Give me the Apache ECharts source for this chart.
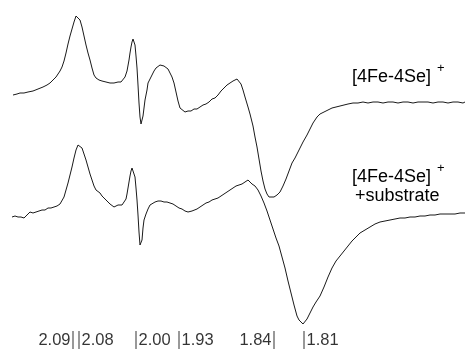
<!DOCTYPE html>
<html>
<head>
<meta charset="utf-8">
<script src="https://cdn.jsdelivr.net/npm/echarts@6/dist/echarts.min.js"></script>
<style>
html,body{margin:0;padding:0;background:#fff;}
#chart{width:465px;height:349px;}
</style>
</head>
<body>
<div id="chart"></div>
<script>
// Field axis (arbitrary units) and derivative signal (arbitrary units, plotted downward)
var topField = [13,17,20,24,28,33,38,43,47,50,53,56,58,60,62,64,66,68,70,72,74,76,77,78,80,82,84,86,88,90,92,94,96,99,102,106,110,114,118,121,123,125,127,129,130,131,132,133,134,135,136,137,138,139,140,141,142,143,144,145,147,148,150,152,154,156,158,160,162,164,166,168,170,172,174,176,178,180,182,185,188,191,194,197,200,203,206,209,212,215,218,221,224,227,230,233,235,237,239,241,243,245,248,250,253,255,257,259,261,263,265,267,269,271,274,277,280,283,286,289,292,295,298,300,303,307,310,313,317,320,324,328,332,336,340,344,348,353,358,363,368,373,378,383,388,393,398,403,408,413,418,423,428,433,438,443,448,453,458,463,465];
var topSignal = [95,94,93,93,92,91,89,87,85,83,80,77,74,71,67,61,53,44,36,29,22,16,14,15,20,27,36,45,53,60,68,75,78,80,81,82,83,83,82,82,80,77,71,60,53,47,42,39,40,45,56,68,85,103,117,124,122,116,108,100,90,83,79,75,71,68,66,65,64,66,67,69,73,77,83,92,101,108,110,112,111,111,109,109,107,105,104,102,99,98,95,91,88,85,83,81,80,79,80,84,90,97,107,114,126,137,147,159,171,181,189,194,197,198,197,195,192,186,179,171,163,158,152,148,142,135,129,123,117,114,112,110,108,107,106,105,104,103,103,102,103,102,102,103,102,102,103,102,102,103,102,102,102,103,102,102,103,102,102,103,102];

var botField = [12,15,18,21,24,27,30,33,36,39,42,45,48,51,54,57,60,62,64,66,68,70,72,74,76,78,80,82,84,86,88,90,92,94,96,98,100,102,104,106,108,110,112,114,116,118,120,122,124,126,127,128,129,130,131,132,133,134,135,136,137,138,139,140,141,142,143,144,146,148,150,152,155,158,161,164,167,170,173,176,179,182,185,188,190,192,194,197,200,203,206,209,212,215,218,221,224,227,230,233,236,239,242,245,247,248,250,252,255,258,261,264,267,270,273,276,279,282,285,288,291,294,297,299,301,303,305,307,310,313,316,320,324,328,332,336,340,344,348,352,356,360,365,370,375,380,385,390,395,400,405,410,415,420,425,430,435,440,445,450,455,460,465];
var botSignal = [217,216,217,217,218,215,212,213,212,211,210,210,208,208,207,206,204,202,197,190,183,175,167,158,150,145,146,148,154,160,167,174,180,186,190,192,193,196,198,200,202,204,206,207,206,205,206,205,203,199,194,188,182,176,171,168,167,170,177,188,200,215,232,245,247,240,228,220,214,209,205,203,202,201,201,202,202,203,204,206,208,209,211,212,214,211,210,209,207,205,203,202,200,199,198,196,194,192,190,188,186,185,184,182,181,180,182,184,186,190,196,203,211,220,229,238,246,257,268,281,293,305,316,320,322,324,322,319,313,307,302,296,287,277,268,261,256,251,246,241,237,233,230,227,224,222,221,220,219,218,218,217,217,216,216,215,215,214,214,214,214,213,213];

// g-value markers
var gLabels = ['2.09','2.08','2.00','1.93','1.84','1.81'];
var gField  = [73,79,136,179,274,304];
var gSide   = ['left','right','right','right','left','right'];
var markerLevel = 340;

function pairs(xs, ys){ return xs.map(function(x,i){ return [x, ys[i]]; }); }

var FONT = '"Liberation Sans", Arial, Helvetica, sans-serif';
var chart = echarts.init(document.getElementById('chart'), null, {renderer:'canvas'});
var lineStyle = {color:'#1a1a1a', width:1};

chart.setOption({
  animation:false,
  backgroundColor:'#ffffff',
  grid:{left:0,right:0,top:0,bottom:0},
  xAxis:{type:'value',min:0,max:465,show:false},
  yAxis:{type:'value',min:0,max:349,inverse:true,show:false},
  series:[
    {type:'line',data:pairs(topField,topSignal),showSymbol:false,symbol:'none',lineStyle:lineStyle,smooth:false},
    {type:'line',data:pairs(botField,botSignal),showSymbol:false,symbol:'none',lineStyle:lineStyle,smooth:false},
    {type:'scatter',
     data:gField.map(function(f,i){
       return {value:[f,markerLevel],
               label:{show:true,formatter:gLabels[i],position:gSide[i],distance:2,
                      fontSize:16.5,color:'#000',fontFamily:FONT}};
     }),
     symbol:'rect',symbolSize:[1,18],
     itemStyle:{color:'#000'}
    }
  ],
  graphic:[
    {type:'text',left:352,top:68,style:{text:'[4Fe-4Se]',font:'18px '+FONT,fill:'#000'}},
    {type:'text',left:437,top:62,style:{text:'+',font:'13px '+FONT,fill:'#000'}},
    {type:'text',left:352,top:168,style:{text:'[4Fe-4Se]',font:'18px '+FONT,fill:'#000'}},
    {type:'text',left:437,top:162,style:{text:'+',font:'13px '+FONT,fill:'#000'}},
    {type:'text',left:355,top:187,style:{text:'+substrate',font:'18px '+FONT,fill:'#000'}}
  ]
});
</script>
</body>
</html>
